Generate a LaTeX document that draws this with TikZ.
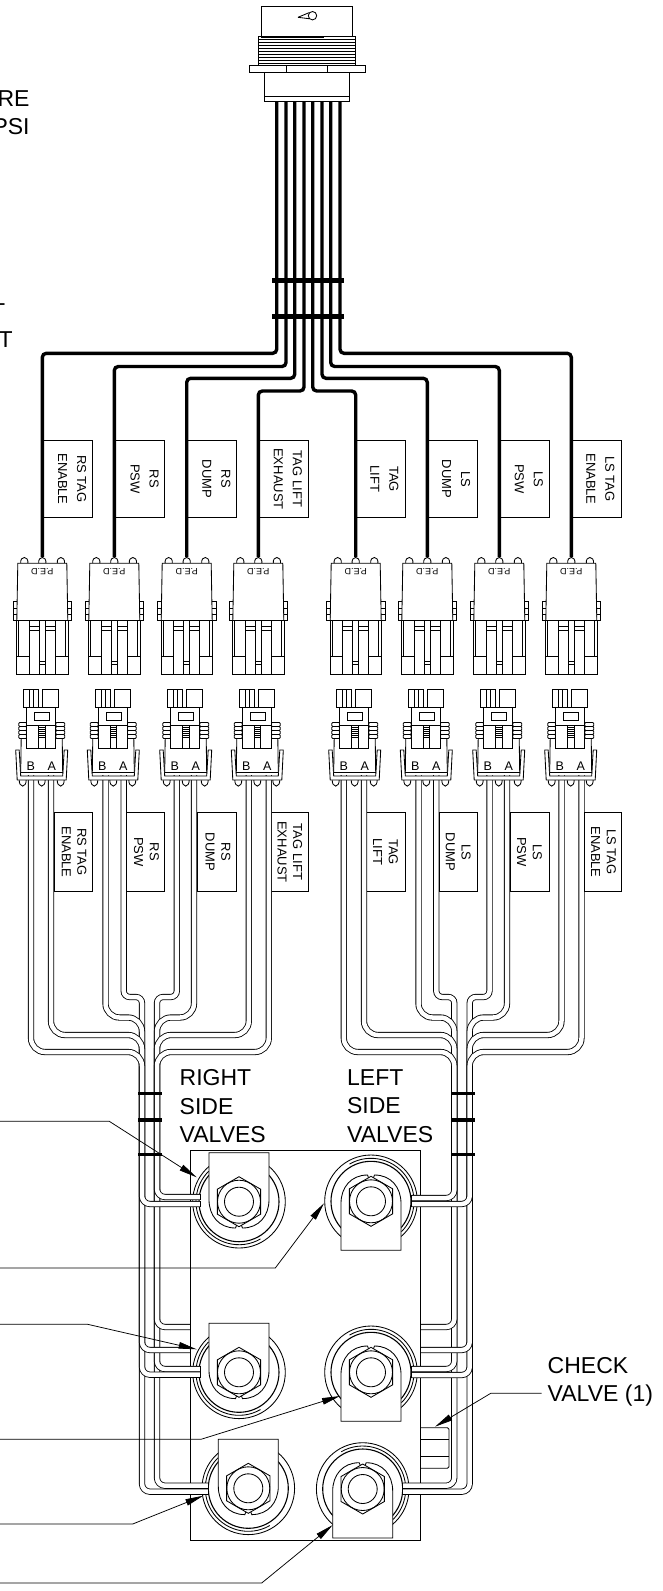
\documentclass[tikz,border=0pt]{standalone}
\usepackage{fontspec}
\setmainfont{Liberation Sans}
\usetikzlibrary{arrows.meta}

\begin{document}
\begin{tikzpicture}[x=1pt,y=-1pt,
  line width=0.85pt,
  callout/.style={inner sep=0pt,font=\fontsize{23}{28.6}\selectfont},
  tagbox/.style={draw,line width=0.7pt},
  tagup/.style={rotate=-90,align=center,inner sep=0pt,font=\fontsize{13}{19}\selectfont},
  taglow/.style={rotate=-90,align=center,inner sep=0pt,font=\fontsize{13}{15.6}\selectfont},
  pedtext/.style={rotate=180,inner sep=0pt,font=\fontsize{9}{9}\selectfont},
  pintext/.style={inner sep=0pt,font=\fontsize{12.5}{12.5}\selectfont},
  harness/.style={line width=3.4pt,rounded corners=4pt},
  tie/.style={line width=5pt},
  tube/.style={line width=0.85pt,double=white,double distance=4.5pt},
  strap/.style={line width=3.5pt},
  leader/.style={line width=0.75pt,-{Triangle[length=18pt,width=6.5pt]}},
  pics/pedplug/.style={code={
    \foreach \bump in {-18,0,18.6} {
        \draw[fill=white] (\bump-3.6,563.3) .. controls (\bump-4.5,555.5) and (\bump+4.5,555.5) .. (\bump+3.6,563.3);
    }
    \draw[fill=white] (-29.3,601.7) rectangle (-25,620.7);
    \draw[fill=white] (25,601.7) rectangle (29.3,620.7);
    \draw (-29.3,608) -- (-25,608) (-29.3,614) -- (-25,614);
    \draw (25,608) -- (29.3,608) (25,614) -- (29.3,614);
    \draw[fill=white] (-24.5,563.3) -- (24.5,563.3) -- (25.5,620.7) -- (-25.5,620.7) -- cycle;
    \node[pedtext] at (0,572) {P.E.D};
    \draw[fill=white] (-25.7,620.7) rectangle (26,674.7);
    \draw (-23.7,620.7) -- (-23.7,656) (23,620.7) -- (23,656);
    \draw (-13,620.7) -- (-13,674.7) (-3,620.7) -- (-3,674.7);
    \draw (3,620.7) -- (3,674.7) (13,620.7) -- (13,674.7);
    \draw (-25.7,656) -- (-13,656) (13,656) -- (26,656);
    \draw (-13,626) -- (-3,626) (-13,630) -- (-3,630);
    \draw (3,626) -- (13,626) (3,630) -- (13,630);
    \draw (-3,661.5) -- (3,661.5) (-3,664.5) -- (3,664.5);
  }},
  pics/pinplug/.style={code={
    \foreach \bump in {-19,0,19} {
        \draw[fill=white] (\bump-3.5,779) .. controls (\bump-4,788.5) and (\bump+4,788.5) .. (\bump+3.5,779);
    }
    \draw[fill=white] (-18.3,689) rectangle (-3.3,707);
    \draw[fill=white] (1,689) rectangle (16.7,707);
    \draw (-12.3,689) -- (-12.3,707) (-8.3,689) -- (-8.3,707);
    \draw[fill=white] (-26,750) -- (-24.5,780) -- (24.5,780) -- (26,750) -- (22.5,750) -- (21,776) -- (-21,776) -- (-22.5,750) -- cycle;
    \draw[fill=white] (-20.5,738) -- (-21,772.5) -- (21,772.5) -- (20.5,738) -- cycle;
    \draw[line width=1.4pt] (-21,772.5) -- (21,772.5);
    \foreach \rib in {722.5,726.5,730.5,734.5} {
        \draw[fill=white,rounded corners=1pt] (-23,\rib) rectangle (-15,\rib+4);
        \draw[fill=white,rounded corners=1pt] (14,\rib) rectangle (23,\rib+4);
    }
    \draw[fill=white] (-15,707) rectangle (14,748.3);
    \draw (-7.3,712.7) rectangle (7.7,720);
    \draw (-15,725) -- (14,725);
    \draw (-3,725) -- (-3,748.3) (3.3,725) -- (3.3,748.3);
    \foreach \rib in {727,729,...,737} {
        \draw[line width=0.5pt] (-3,\rib) -- (3.3,\rib);
    }
    \node[pintext] at (-11,766.5) {B};
    \node[pintext] at (10,766.5) {A};
  }},
  pics/valvebody/.style={code={
    \draw (0,0) circle[radius=46.3];
    \draw[line width=1.1pt] (0,0) circle[radius=40];
    \draw (60:43) arc[start angle=60,end angle=225,radius=43];
    \draw[fill=white] (-30,-49) -- (30,-49) -- (30,-2) .. controls (30,14) and (20,26.3) .. (3.5,26.3) -- (2,22.5) -- (-2,22.5) -- (-3.5,26.3) .. controls (-20,26.3) and (-30,14) .. (-30,-2) -- cycle;
    \draw[fill=white] (90:25) -- (150:25) -- (210:25) -- (270:25) -- (330:25) -- (30:25) -- cycle;
    \draw (0,0) circle[radius=21.5];
    \draw (0,0) circle[radius=14.5];
  }}
]
\useasboundingbox (0,0) rectangle (663,1591);

\node (noteone) [callout,anchor=north east,align=right] at (30,90) {RE\\PSI};
\node (notetwo) [callout,anchor=north east] at (5.7,303.5) {T};
\node (notethree) [callout,anchor=north east] at (13,331.5) {T};

\node (rightside) [callout,anchor=north west,align=left] at (179.3,1069) {RIGHT\\SIDE\\VALVES};
\node (leftside) [callout,anchor=north west,align=left] at (346.7,1069) {LEFT\\SIDE\\VALVES};
\node (checkvalve) [callout,anchor=north west,align=left] at (547.3,1356.7) {CHECK\\VALVE (1)};

\draw (261.3,36.7) -- (261.3,6) -- (352.7,6) -- (352.7,36.7);
\draw (298,17.3) -- (309,12.7) (298,17.3) -- (309,18.7);
\draw (312.5,15.7) circle[radius=4.2];
\draw (258.7,36.7) rectangle (355.7,65.3);
\draw[line width=1.4pt] (261.3,37) -- (324,37);
\foreach \thread in {39,42,45,48,51,54,57,60,63} {
    \draw[line width=0.5pt] (258.7,\thread) -- (355.7,\thread);
}
\draw (249.3,65.3) rectangle (365,72);
\draw (286.7,65.3) -- (286.7,72) (327.3,65.3) -- (327.3,72);
\draw (264.7,72) rectangle (349.3,101.3);
\draw (264.7,96.7) -- (349.3,96.7);

\foreach \x/\y/\drop in {276.7/353.3/42.3,286/366.5/114.3,294.7/378.3/186.7,304/391/258.3,
                         312.7/391/355.7,322/378.3/427.3,330.7/366.5/499.3,340/353.3/571.3} {
    \draw[harness] (\x,101.3) -- (\x,\y) -- (\drop,\y) -- (\drop,557);
}
\draw[tie] (272,280) -- (344.3,280);
\draw[tie] (272,316) -- (344.3,316);

\foreach \left/\right/\mid/\name [count=\i] in {
    42.3/92.3/72.2/{RS TAG\\ENABLE},114.3/164.3/144.7/{RS\\PSW},186.7/236.3/216.3/{RS\\DUMP},258.3/308.3/287.8/{TAG LIFT\\EXHAUST},
    355.7/405.3/384.5/{TAG\\LIFT},427.3/477.3/456.2/{LS\\DUMP},499.3/549.3/528.8/{LS\\PSW},571.3/621.3/600.5/{LS TAG\\ENABLE}} {
    \draw[tagbox] (\left,440) rectangle (\right,517.7);
    \node (tagup\i) [tagup] at (\mid,479) {\name};
}
\foreach \left/\right/\mid/\name [count=\i] in {
    54.3/92.3/74.2/{RS TAG\\ENABLE},126.7/164.3/146.5/{RS\\PSW},197.3/236.3/218/{RS\\DUMP},271.7/308.3/289.8/{TAG LIFT\\EXHAUST},
    366.7/405.3/385.5/{TAG\\LIFT},439.3/477.3/458.2/{LS\\DUMP},510/549.3/529.5/{LS\\PSW},584.3/621.3/603.5/{LS TAG\\ENABLE}} {
    \draw[tagbox] (\left,812.7) rectangle (\right,891);
    \node (taglow\i) [taglow] at (\mid,852) {\name};
}

\draw (190,1150) rectangle (420,1540);
\draw[rounded corners=1.5pt] (420,1427.7) -- (449,1427.7) -- (449,1468.3) -- (420,1468.3);
\draw (420,1439.3) -- (449,1439.3) (420,1456) -- (449,1456);

\foreach \cx/\cy/\turn in {239/1201.7/0,371/1201.3/180,239/1372.3/0,371/1372.3/180,248.3/1488.3/0,362.7/1489/180} {
    \pic[rotate=\turn] at (\cx,\cy) {valvebody};
}

\foreach \fromx/\runy/\colx/\bendy/\endx/\rad in {
    176.8/997/157/1485.7/208/6pt,194/1017.5/157/1369/200/14pt,248.8/1035/157/1327/190/14pt,268.8/1052/157/1197/200/14pt,
    123.7/997/142/1491.7/208/6pt,105.5/1017.5/142/1374.7/200/14pt,51/1035/142/1350/190/14pt,31/1052/142/1204/200/14pt,
    436.3/997/454.3/1485.7/402.7/6pt,418.5/1017.5/454.3/1369/411.7/14pt,364/1035/454.3/1327/420/14pt,343.8/1052/454.3/1198/411.7/14pt,
    489.5/997/469.7/1491.7/402.7/6pt,507/1017.5/469.7/1375/411.7/14pt,561.5/1035/469.7/1350/420/14pt,581.5/1052/469.7/1204/411.7/14pt} {
    \draw[tube] (\fromx,775) [rounded corners=\rad] -- (\fromx,\runy) -- (\colx,\runy) [rounded corners=8pt] -- (\colx,\bendy) [rounded corners=5pt] -- (\endx,\bendy);
    \draw (\endx,\bendy-3) -- (\endx,\bendy+3);
}
\foreach \y in {1093.5,1120,1154.5} {
    \draw[strap] (138.3,\y) -- (161.7,\y);
    \draw[strap] (451,\y) -- (474.7,\y);
}

\foreach \cx [count=\i] in {42.3,114.3,186.7,258.3,355.7,427.3,499.3,571.3} {
    \pic (ped\i) at (\cx,0) {pedplug};
}
\foreach \cx [count=\i] in {41.7,113.3,185.7,257.3,354.7,426.3,498.7,570.7} {
    \pic (pin\i) at (\cx,0) {pinplug};
}

\coordinate (freeone) at (0,1121.3);
\coordinate (freetwo) at (0,1268);
\coordinate (freethree) at (0,1324.3);
\coordinate (freefour) at (0,1439.3);
\coordinate (freefive) at (0,1524);
\coordinate (freesix) at (0,1583);
\coordinate (tipone) at (196.7,1177.3);
\coordinate (tiptwo) at (324,1203.3);
\coordinate (tipthree) at (196.7,1349.3);
\coordinate (tipfour) at (340,1396);
\coordinate (tipfive) at (203.3,1495.7);
\coordinate (tipsix) at (332.7,1525);
\coordinate (tipcheck) at (435,1426.7);
\draw[leader] (freeone) -- (109.3,1121.3) -- (tipone);
\draw[leader] (freetwo) -- (275.3,1268) -- (tiptwo);
\draw[leader] (freethree) -- (87.7,1324.3) -- (tipthree);
\draw[leader] (freefour) -- (201,1439.3) -- (tipfour);
\draw[leader] (freefive) -- (132.7,1524) -- (tipfive);
\draw[leader] (freesix) -- (261.7,1583) -- (tipsix);
\draw[leader] (checkvalve.west |- 0,1393.3) ++(-5.6,0) -- (490.7,1393.3) -- (tipcheck);
\end{tikzpicture}
\end{document}
